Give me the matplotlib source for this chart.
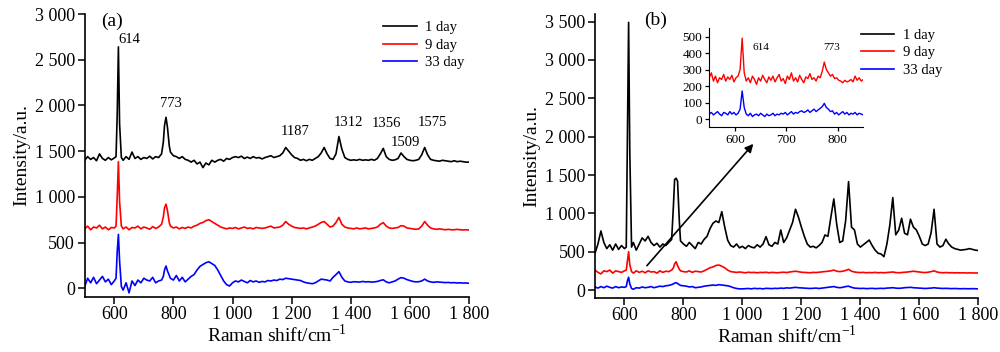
import matplotlib
matplotlib.use("Agg")
import matplotlib.pyplot as plt
from matplotlib.ticker import FuncFormatter

plt.rcParams['font.family'] = ['Liberation Serif', 'DejaVu Serif']
plt.rcParams['mathtext.fontset'] = 'custom'
plt.rcParams['mathtext.rm'] = 'Liberation Serif'

# ---------------- data ----------------
# shared Raman-shift sampling (cm-1) for the main panels
raman_shift = (list(range(500, 601, 10)) + [606, 610, 614, 618, 624]
               + list(range(630, 761, 10)) + [766, 770, 775, 780, 786]
               + list(range(790, 1801, 10)))

series_labels = ["1 day", "9 day", "33 day"]
series_colors = ["#000000", "#ff0000", "#0000ff"]

# panel (a)
a_day1 = [1400, 1440, 1410, 1430, 1395, 1470, 1420, 1400, 1430, 1405, 1425,
          1440, 1900, 2640, 1800, 1430,
          1400, 1440, 1410, 1490, 1420, 1440, 1410, 1430, 1420, 1445, 1415, 1440, 1430, 1470,
          1600, 1780, 1870, 1760, 1560,
          1490, 1450, 1440, 1420, 1440, 1410, 1400, 1380, 1400, 1360, 1380,
          1320, 1370, 1350, 1400, 1380, 1400, 1410, 1390, 1420, 1410,
          1430, 1440, 1430, 1445, 1420, 1435, 1420, 1440, 1425, 1430,
          1415, 1430, 1440, 1450, 1430, 1440, 1450, 1480, 1540, 1500,
          1460, 1430, 1420, 1400, 1410, 1395, 1410, 1400, 1420, 1440,
          1480, 1540, 1470, 1420, 1410, 1470, 1660, 1520, 1430, 1410,
          1400, 1405, 1400, 1410, 1400, 1405, 1400, 1410, 1400, 1420,
          1470, 1530, 1440, 1410, 1400, 1405, 1420, 1480, 1440, 1410,
          1400, 1395, 1400, 1410, 1460, 1540, 1460, 1410, 1400, 1395,
          1390, 1400, 1395, 1390, 1385, 1395, 1385, 1390, 1385, 1380,
          1380]
a_day9 = [650, 680, 640, 670, 660, 690, 650, 670, 640, 665, 660,
          680, 1000, 1385, 950, 680,
          650, 670, 640, 665, 660, 680, 650, 670, 660, 645, 675, 655, 670, 700,
          780, 880, 920, 850, 720,
          680, 660, 670, 650, 665, 655, 670, 660, 680, 690, 710,
          720, 740, 750, 730, 710, 690, 670, 660, 650, 660,
          655, 665, 650, 660, 670, 655, 660, 650, 665, 660,
          655, 660, 670, 680, 660, 665, 670, 690, 730, 700,
          680, 665, 660, 655, 660, 650, 660, 670, 680, 700,
          720, 730, 700, 670, 680, 720, 775, 700, 670, 660,
          655, 650, 660, 650, 655, 660, 650, 655, 660, 670,
          700, 718, 680, 660, 655, 660, 665, 685, 680, 660,
          655, 650, 645, 650, 680, 730, 690, 660, 650, 645,
          650, 645, 640, 645, 640, 640, 645, 640, 638, 640,
          638]
a_day33 = [20, 110, 60, 120, 50, 90, 130, 70, 100, 40, 80,
           110, 400, 590, 300, 20,
           -20, 60, -50, 80, 30, 90, 60, 110, 90, 80, 120, 60, 80, 90,
           130, 200, 244, 190, 140,
           110, 90, 140, 80, 120, 70, 100, 130, 150, 200, 240,
           260, 280, 290, 270, 250, 200, 140, 80, 40, 25,
           60, 80, 70, 90, 75, 60, 85, 70, 80, 65,
           75, 70, 85, 80, 90, 85, 100, 95, 110, 105,
           100, 95, 90, 85, 70, 60, 55, 50, 60, 80,
           100, 95, 90, 80, 120, 150, 182, 120, 80, 70,
           65, 72, 70, 68, 75, 70, 72, 68, 70, 75,
           85, 93, 70, 60, 70, 80, 100, 117, 110, 95,
           85, 75, 70, 72, 80, 100, 80, 70, 65, 70,
           68, 65, 62, 64, 60, 62, 58, 60, 57, 58,
           55]

# panel (b)
b_day1 = [480, 600, 770, 620, 540, 590, 520, 600, 530, 580, 540,
          560, 2000, 3490, 1800, 560,
          620, 520, 600, 680, 640, 700, 620, 580, 610, 560, 600, 580, 620, 660,
          1100, 1440, 1458, 1420, 900,
          640, 600, 570, 620, 580, 540, 620, 600, 660, 700, 800,
          870, 900, 880, 1022, 820, 650, 580, 560, 600, 550,
          570, 540, 580, 560, 550, 590, 560, 600, 696, 590,
          570, 620, 600, 783, 620, 680, 780, 880, 1053, 950,
          820, 700, 600, 560, 570, 550, 580, 620, 718, 700,
          950, 1188, 850, 620, 640, 900, 1414, 820, 783, 600,
          560, 590, 620, 652, 580, 520, 480, 470, 435, 600,
          850, 1205, 720, 780, 936, 740, 720, 923, 820, 783,
          700, 600, 580, 600, 750, 1053, 600, 560, 580, 662,
          600, 560, 540, 530, 520, 525, 530, 540, 530, 520,
          515]
b_day9 = [260, 230, 210, 250, 240, 260, 220, 250, 240, 230, 250,
          260, 380, 500, 330, 240,
          220, 250, 230, 245, 225, 250, 235, 240, 220, 250, 230, 245, 240, 260,
          290, 340, 369, 320, 270,
          250, 240, 235, 250, 230, 245, 240, 235, 250, 270, 290,
          300, 320, 326, 310, 290, 260, 240, 235, 230, 235,
          230, 225, 232, 228, 230, 225, 230, 228, 232, 225,
          230, 228, 225, 230, 232, 228, 235, 240, 245, 238,
          232, 230, 228, 225, 230, 228, 232, 235, 240, 245,
          250, 260, 245, 240, 245, 255, 270, 245, 235, 230,
          228, 230, 225, 228, 226, 230, 225, 228, 225, 228,
          230, 235, 228, 225, 228, 232, 235, 240, 245, 240,
          235, 230, 228, 232, 240, 250, 235, 228, 225, 228,
          225, 226, 224, 225, 223, 225, 222, 224, 222, 223,
          222]
b_day33 = [40, 25, 45, 30, 50, 35, 25, 45, 30, 40, 35,
           45, 120, 166, 80, 20,
           10, 30, 25, 40, 30, 35, 45, 30, 40, 50, 45, 55, 60, 70,
           80, 90, 96, 85, 70,
           60, 55, 50, 40, 45, 30, 35, 40, 50, 55, 60,
           65, 60, 70, 65, 60, 55, 45, 30, 20, 15,
           15, 18, 20, 15, 22, 18, 20, 15, 22, 20,
           18, 22, 20, 25, 22, 28, 25, 30, 35, 30,
           28, 25, 22, 20, 22, 25, 20, 25, 30, 35,
           40, 45, 35, 30, 35, 45, 50, 35, 25, 22,
           20, 22, 18, 20, 22, 18, 20, 22, 20, 25,
           28, 30, 25, 22, 25, 30, 32, 35, 30, 28,
           25, 22, 20, 22, 25, 30, 25, 22, 20, 22,
           20, 18, 20, 18, 16, 18, 17, 16, 18, 16,
           15]

# inset of panel (b): 550-850 cm-1
inset_shift = list(range(550, 851, 4))
inset_day9 = [250, 280, 230, 260, 220, 250, 240, 270, 230, 255, 240, 265, 225, 250, 260, 300,
              490,
              280, 230, 250, 220, 260, 240, 210, 250, 230, 265, 240, 220, 255, 235, 260,
              225, 250, 270, 230, 245, 215, 260, 240, 280, 230, 250, 225, 265, 240, 220,
              255, 245, 275, 240, 250, 230, 260, 250, 290,
              345,
              300, 280, 260, 270, 245, 250, 235, 230, 220, 235, 225, 230, 240, 225, 260,
              235, 250, 230, 240]
inset_day33 = [30, 40, 25, 35, 45, 30, 20, 40, 35, 25, 45, 30, 40, 25, 35, 60,
               170,
               70, 30, 20, 35, 15, 25, 30, 20, 35, 25, 15, 30, 20, 25, 35,
               20, 30, 25, 35, 30, 40, 25, 35, 45, 30, 40, 35, 45, 50, 40,
               45, 55, 40, 50, 60, 45, 55, 65, 75,
               95,
               70, 60, 45, 50, 30, 40, 25, 35, 45, 30, 40, 25, 35, 30, 40,
               25, 35, 30, 25]

# peak annotations: (label, x, y)
peaks_a = [("614", 652, 2717), ("773", 792, 2016), ("1187", 1212, 1713),
           ("1312", 1392, 1812), ("1356", 1522, 1805), ("1509", 1586, 1593),
           ("1575", 1677, 1812)]
peaks_inset = [("614", 651, 434), ("773", 789, 434)]

x_ticks = [600, 800, 1000, 1200, 1400, 1600, 1800]
y_ticks_a = [0, 500, 1000, 1500, 2000, 2500, 3000]
y_ticks_b = [0, 500, 1000, 1500, 2000, 2500, 3000, 3500]

# ---------------- plotting ----------------
def thousands(v, pos=None):
    s = f"{int(round(v)):,}"
    return s.replace(",", " ")

fig = plt.figure(figsize=(10, 3.52), dpi=100)
axA = fig.add_axes([0.0847, 0.1571, 0.3843, 0.8031])
axB = fig.add_axes([0.595, 0.1543, 0.3833, 0.8060])

def style_main(ax):
    for s in ["top", "right"]:
        ax.spines[s].set_visible(False)
    for s in ["left", "bottom"]:
        ax.spines[s].set_linewidth(1.2)
    ax.tick_params(direction="out", length=5, width=1.1, labelsize=13, pad=2)
    ax.xaxis.set_major_formatter(FuncFormatter(thousands))
    ax.yaxis.set_major_formatter(FuncFormatter(thousands))
    ax.set_xlim(500, 1800)
    ax.set_xticks(x_ticks)
    ax.set_xlabel("Raman shift/cm$^{\\mathregular{-1}}$", fontsize=14, labelpad=0)
    ax.set_ylabel("Intensity/a.u.", fontsize=14, labelpad=3)

panel_a = [a_day1, a_day9, a_day33]
panel_b = [b_day1, b_day9, b_day33]
for ys, c, lab in zip(panel_a, series_colors, series_labels):
    axA.plot(raman_shift, ys, color=c, lw=1.2, label=lab)
for ys, c, lab in zip(panel_b, series_colors, series_labels):
    axB.plot(raman_shift, ys, color=c, lw=1.2, label=lab)

style_main(axA)
style_main(axB)
axA.set_ylim(-92, 3000)
axA.set_yticks(y_ticks_a)
axB.set_ylim(-100, 3600)
axB.set_yticks(y_ticks_b)

for txt, x, y in peaks_a:
    axA.text(x, y, txt, ha="center", va="center", fontsize=10.5)
axA.text(594, 2925, "(a)", ha="center", va="center", fontsize=14)
axB.text(707, 3512, "(b)", ha="center", va="center", fontsize=14)

leg_kw = dict(frameon=False, fontsize=10.5, handlelength=2.3, handletextpad=0.6,
              labelspacing=0.3, borderpad=0, borderaxespad=0, loc="upper left")
axA.legend(bbox_to_anchor=(0.383, 1 - 21 / 352), bbox_transform=fig.transFigure, **leg_kw)
axB.legend(bbox_to_anchor=(0.8607, 1 - 28.5 / 352), bbox_transform=fig.transFigure, **leg_kw)

axB.annotate("", xy=(1037, 1906), xytext=(676, 317),
             arrowprops=dict(arrowstyle="-|>", color="black", lw=1.2,
                             mutation_scale=12, shrinkA=0, shrinkB=0))

ins = fig.add_axes([0.7093, 0.6384, 0.154, 0.2813])
ins.patch.set_alpha(0)
ins.plot(inset_shift, inset_day9, color=series_colors[1], lw=1.0)
ins.plot(inset_shift, inset_day33, color=series_colors[2], lw=1.0)
for s in ["top", "right"]:
    ins.spines[s].set_visible(False)
ins.set_xlim(550, 850)
ins.set_ylim(-50, 550)
ins.set_xticks([600, 700, 800])
ins.set_yticks([0, 100, 200, 300, 400, 500])
ins.tick_params(direction="out", length=3, width=0.9, labelsize=9.5, pad=2)
for txt, x, y in peaks_inset:
    ins.text(x, y, txt, ha="center", va="center", fontsize=8)

fig.savefig("out.png", dpi=100)
